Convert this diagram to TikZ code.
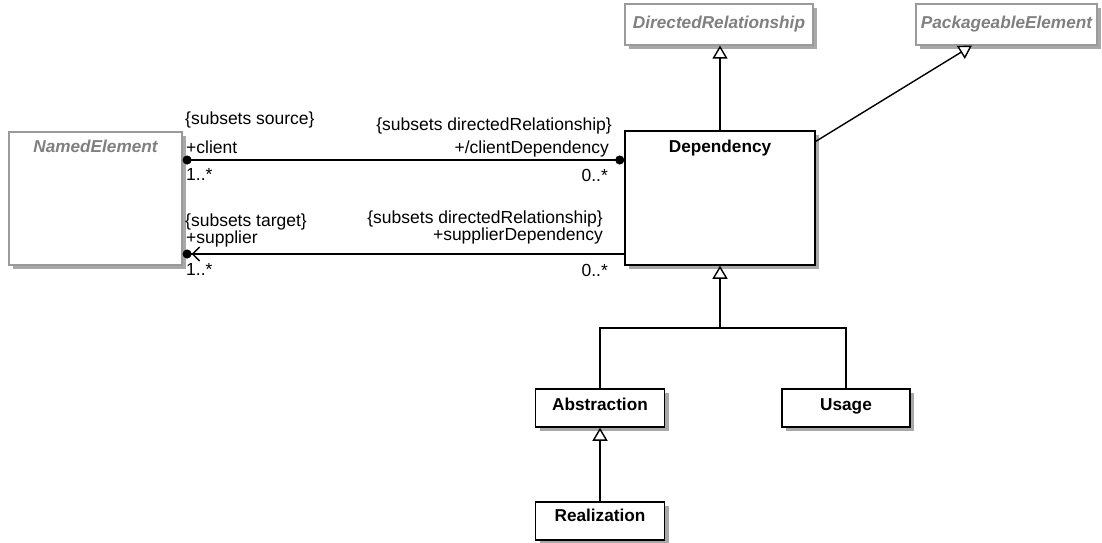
\documentclass[tikz,border=0pt]{standalone}
\usepackage{fontspec}
\setmainfont{Liberation Sans}
\usetikzlibrary{arrows.meta,shadows,calc}
\definecolor{absgray}{HTML}{808080}
\definecolor{absborder}{HTML}{9A9A9A}
\definecolor{shadowgray}{HTML}{A8A8A8}
\tikzset{
  cls/.style={rectangle, draw=black, line width=1.5pt, fill=white, inner sep=0pt,
    drop shadow={shadow xshift=4pt, shadow yshift=-4pt, fill=shadowgray, opacity=1}},
  abscls/.style={cls, draw=absborder, line width=1.2pt},
  lbl/.style={inner sep=0pt, font=\fontsize{17.5}{20}\selectfont},
  clsname/.style={inner sep=0pt, anchor=base, font=\fontsize{17.2}{20}\selectfont\bfseries},
  absname/.style={clsname, font=\fontsize{17.2}{20}\selectfont\bfseries\itshape, text=absgray},
  conn/.style={line width=1.4pt, draw=black},
  gen/.style={conn, -{Triangle[length=13pt, width=15pt, fill=white, line width=1.4pt]}},
}
\begin{document}
\begin{tikzpicture}[x=1pt, y=-1pt]
\useasboundingbox (0,0) rectangle (1102,542);
% classes
\node[abscls, minimum width=173pt, minimum height=133pt] (ne) at (95.5,198.5) {};
\node[absname] (nelbl) at (95.5,152) {NamedElement};
\node[abscls, minimum width=188pt, minimum height=41pt] (dr) at (719,24.5) {};
\node[absname] (drlbl) at (719,28.5) {DirectedRelationship};
\node[abscls, minimum width=181pt, minimum height=41pt] (pe) at (1006.5,24.5) {};
\node[absname] (pelbl) at (1006.5,28.5) {PackageableElement};
\node[cls, minimum width=190pt, minimum height=134pt] (dep) at (720,198) {};
\node[clsname] (deplbl) at (720,152) {Dependency};
\node[cls, minimum width=129pt, minimum height=38pt] (abs) at (600,408) {};
\node[clsname] (abslbl) at (600,410) {Abstraction};
\node[cls, minimum width=128pt, minimum height=38pt] (use) at (846,408) {};
\node[clsname] (uselbl) at (846,410) {Usage};
\node[cls, minimum width=129pt, minimum height=38pt] (real) at (600,521) {};
\node[clsname] (reallbl) at (600,521.7) {Realization};
% generalizations
\draw[gen] (dep.north) -- (dep.north |- dr.south);
\draw[gen] ($(dep.north east)!0.082!(dep.south east)$) -- ($(pe.south west)!0.31!(pe.south east)$);
\coordinate (j) at (720,328);
\draw[conn] (abs.north) |- (j) -| (use.north);
\draw[gen] (j) -- (dep.south);
\draw[gen] (real.north) -- (abs.south);
% associations
\coordinate (cy) at (0,160);
\coordinate (sy) at (0,254);
\draw[conn, {Circle[length=9pt]}-{Circle[length=9pt]}] (ne.east |- cy) -- (dep.west |- cy);
\draw[conn, -{Straight Barb[length=7pt, width=14pt, line width=1.4pt] Circle[length=9pt]}] (dep.west |- sy) -- (ne.east |- sy);
% association end labels
\node[lbl, anchor=base west] (l1) at (185,124) {\{subsets source\}};
\node[lbl, anchor=base west] (l2) at (186,153) {+client};
\node[lbl, anchor=base west] (l3) at (186,180) {1..*};
\node[lbl, anchor=base west] (l4) at (185,226.5) {\{subsets target\}};
\node[lbl, anchor=base west] (l5) at (186,243.5) {+supplier};
\node[lbl, anchor=base west] (l6) at (186,275) {1..*};
\node[lbl, anchor=base east] (r1) at (612,130) {\{subsets directedRelationship\}};
\node[lbl, anchor=base east] (r2) at (609,153) {+/clientDependency};
\node[lbl, anchor=base east] (r3) at (608,181.5) {0..*};
\node[lbl, anchor=base east] (r4) at (603,223.5) {\{subsets directedRelationship\}};
\node[lbl, anchor=base east] (r5) at (603,240.5) {+supplierDependency};
\node[lbl, anchor=base east] (r6) at (608,276) {0..*};
\end{tikzpicture}
\end{document}
